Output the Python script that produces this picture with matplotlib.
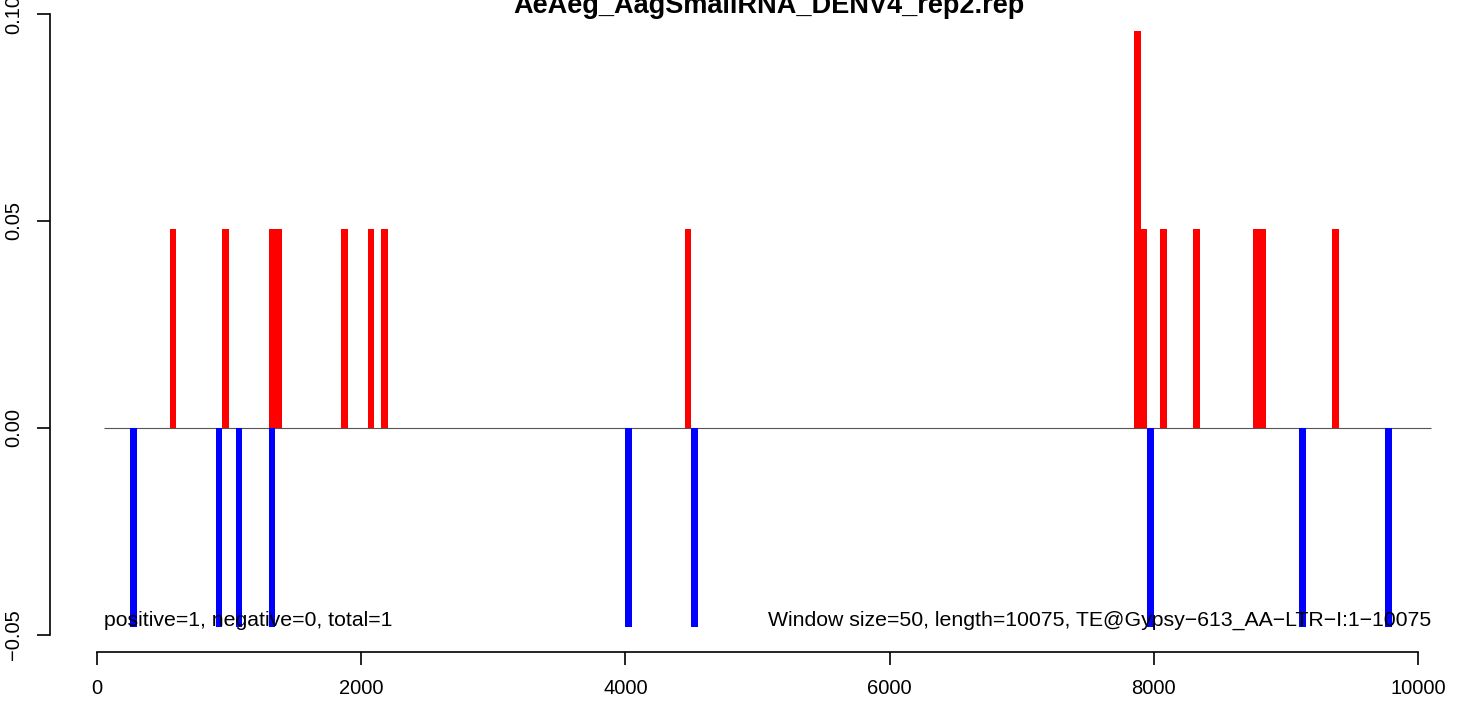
import matplotlib
matplotlib.use("Agg")
import matplotlib.pyplot as plt

plt.rcParams['font.family'] = ['Liberation Sans', 'DejaVu Sans']

# window start positions (window size 50) and values
red_pos = [550, 950, 1300, 1350, 1850, 2050, 2150, 4450, 7850, 7900, 8050, 8300, 8750, 8800, 9350]
red_val = [0.048, 0.048, 0.048, 0.048, 0.048, 0.048, 0.048, 0.048, 0.096, 0.048, 0.048, 0.048, 0.048, 0.048, 0.048]
blue_pos = [250, 900, 1050, 1300, 4000, 4500, 7950, 9100, 9750]
blue_val = [-0.048, -0.048, -0.048, -0.048, -0.048, -0.048, -0.048, -0.048, -0.048]

window = 50
x_ticks = [0, 2000, 4000, 6000, 8000, 10000]
y_ticks = [-0.05, 0.00, 0.05, 0.10]
y_labels = ["-0.05", "0.00", "0.05", "0.10"]

title = "AeAeg_AagSmallRNA_DENV4_rep2.rep"
left_note = "positive=1, negative=0, total=1"
right_note = "Window size=50, length=10075, TE@Gypsy\u2212613_AA\u2212LTR\u2212I:1\u221210075"

W, H = 1466, 702
fig = plt.figure(figsize=(W / 100, H / 100), dpi=100)

# axes placed in pixels: left 50, right 1440, top 14, bottom 652
ax = fig.add_axes([50 / W, 1 - 652 / H, 1390 / W, 638 / H])
ax.set_xlim((50 - 97) / 0.1321, (1440 - 97) / 0.1321)
ax.set_ylim(-(652 - 428) / 4140, 0.10)

ax.bar(red_pos, red_val, width=window, align='edge', color='#ff0000', linewidth=0, zorder=2)
ax.bar(blue_pos, blue_val, width=window, align='edge', color='#0000ff', linewidth=0, zorder=2)
ax.hlines(0, 50, 10100, color='#555555', linewidth=0.8, zorder=1)

ax.text(50, -0.0465, left_note, ha='left', va='center', fontsize=15.3)
ax.text(10100, -0.0465, right_note, ha='right', va='center', fontsize=15.3)

for s in ['top', 'right']:
    ax.spines[s].set_visible(False)
ax.spines['left'].set_bounds(-0.05, 0.10)
ax.spines['bottom'].set_bounds(0, 10000)
ax.spines['left'].set_linewidth(1.2)
ax.spines['bottom'].set_linewidth(1.2)

ax.set_xticks(x_ticks)
ax.set_xticklabels([str(t) for t in x_ticks])
ax.set_yticks(y_ticks)
ax.set_yticklabels([l.replace("-", "\u2212") for l in y_labels], rotation=90, va='center')
ax.tick_params(axis='both', direction='out', length=9.5, width=1.2, labelsize=14.5, pad=10)

fig.text(769 / W, 1 - 13 / H, title, ha='center', va='baseline', fontsize=19.5, fontweight='bold')

fig.savefig("out.png", dpi=100)
